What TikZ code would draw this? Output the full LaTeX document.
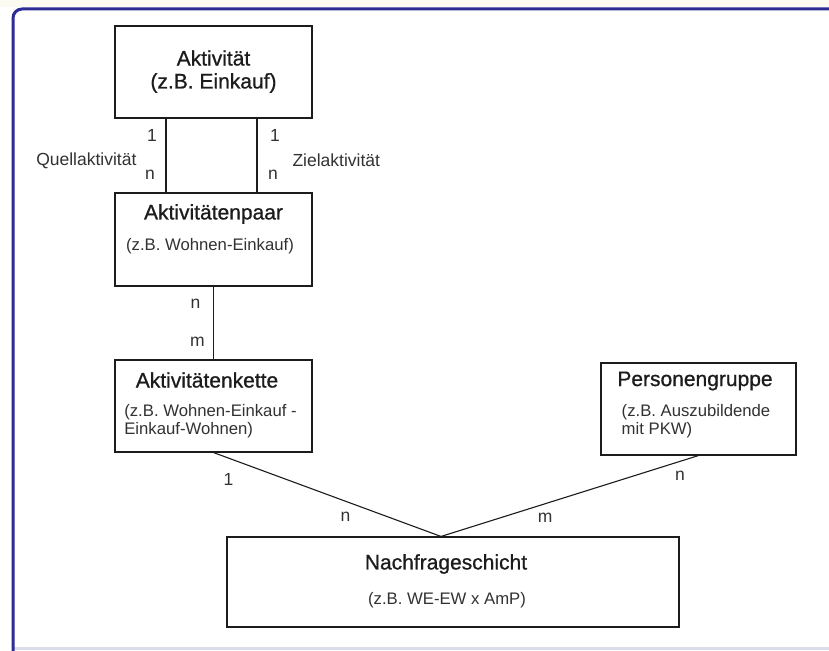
\documentclass[tikz,border=0pt]{standalone}
\usepackage{fontspec}
\setmainfont{Liberation Sans}
\newfontface\heavyface{Liberation Sans}[FakeBold=0.8]
\usetikzlibrary{calc}
\definecolor{framecolor}{RGB}{44,44,148}
\definecolor{inkcolor}{RGB}{28,28,28}
\definecolor{softink}{RGB}{50,50,50}
\definecolor{footline}{RGB}{218,220,236}
\definecolor{topstrip}{RGB}{251,251,242}
\newcommand{\titlesize}{\heavyface\fontsize{21}{24}\selectfont}
\newcommand{\subsize}{\fontsize{16.7}{18}\selectfont}
\newcommand{\cardsize}{\fontsize{17.5}{20}\selectfont}

\begin{document}
\begin{tikzpicture}[x=1pt, y=-1pt,
        box/.style={draw=inkcolor, line width=1.1pt, inner sep=0pt},
        title/.style={text=inkcolor, font=\titlesize, inner sep=0pt},
        sub/.style={text=softink, font=\subsize, inner sep=0pt, align=left},
        rel/.style={draw=inkcolor, line width=1.1pt},
        card/.style={text=softink, font=\cardsize, inner sep=0pt}]
        \useasboundingbox (0,0) rectangle (829,650);
        \fill[white] (0,0) rectangle (829,650);
        \fill[topstrip] (0,0) rectangle (829,7);
        \draw[footline, line width=3pt] (14,648.5) -- (829,648.5);
        \draw[framecolor, line width=3pt, rounded corners=9pt] (13,652) |- (832,9);

        \node[box, minimum width=197, minimum height=92] (akt) at (213.5,72) {};
        \node[title] (akt-t) at (213.5,58) {Aktivität};
        \node[title] (akt-s) at (213.5,83) {(z.B. Einkauf)};

        \node[box, minimum width=197, minimum height=93] (paar) at (213.5,239.5) {};
        \node[title] (paar-t) at (213.5,214) {Aktivitätenpaar};
        \node[sub] (paar-s) at (210,246) {(z.B. Wohnen-Einkauf)};

        \node[box, minimum width=197, minimum height=92] (kette) at (213.5,406) {};
        \node[title] (kette-t) at (207,380) {Aktivitätenkette};
        \node[sub] (kette-s) at (210.5,421) {(z.B. Wohnen-Einkauf -\\Einkauf-Wohnen)};

        \node[box, minimum width=195, minimum height=92] (gruppe) at (698.5,409) {};
        \node[title] (gruppe-t) at (695,381) {Personengruppe};
        \node[sub] (gruppe-s) at (696,421.5) {(z.B. Auszubildende\\mit PKW)};

        \node[box, minimum width=452, minimum height=90] (nachf) at (453,582) {};
        \node[title] (nachf-t) at (446,564) {Nachfrageschicht};
        \node[sub] (nachf-s) at (447,600) {(z.B. WE-EW x AmP)};

        \coordinate (apex) at ([xshift=-12pt]nachf.north);

        \draw[rel] ([xshift=-47.5pt]akt.south) -- ([xshift=-47.5pt]paar.north)
            node[card, pos=.23, xshift=-14pt] (quelle-1) {1}
            node[card, pos=.76, xshift=-16pt] (quelle-n) {n}
            node[card, pos=.57, anchor=east, xshift=-29pt] (quelle) {Quellaktivität};
        \draw[rel] ([xshift=43.5pt]akt.south) -- ([xshift=43.5pt]paar.north)
            node[card, pos=.23, xshift=18pt] (ziel-1) {1}
            node[card, pos=.76, xshift=16pt] (ziel-n) {n}
            node[card, pos=.57, anchor=west, xshift=35pt] (ziel) {Zielaktivität};
        \draw[rel] (paar) -- (kette)
            node[card, pos=.23, xshift=-18pt] (paar-n) {n}
            node[card, pos=.76, xshift=-16pt] (kette-m) {m};
        \draw[rel] (kette.south) -- (apex)
            node[card, pos=.066, yshift=-21pt] (kette-1) {1}
            node[card, pos=.58, yshift=-16pt] (nachf-n) {n};
        \draw[rel] (gruppe.south) -- (apex)
            node[card, pos=.072, yshift=-14pt] (gruppe-n) {n}
            node[card, pos=.596, yshift=-14pt] (nachf-m) {m};
\end{tikzpicture}
\end{document}
